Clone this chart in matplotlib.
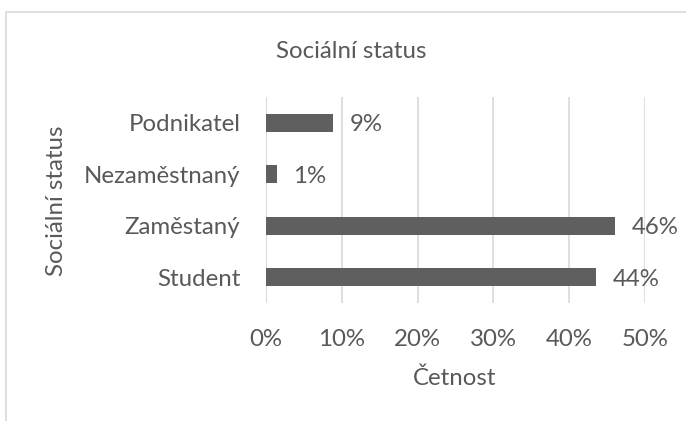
import matplotlib
matplotlib.use("Agg")
import matplotlib.pyplot as plt
from matplotlib.patches import Rectangle
from matplotlib.ticker import PercentFormatter
from matplotlib.transforms import offset_copy

# Data (shares of respondents)
categories = ["Student", "Zaměstaný", "Nezaměstnaný", "Podnikatel"]
shares = [0.436, 0.46, 0.014, 0.089]
x_ticks = [0, 0.1, 0.2, 0.3, 0.4, 0.5]

TEXT_COLOR = "#595959"
BAR_COLOR = "#5f5f5f"
GRID_COLOR = "#d9d9d9"
FS = 17.3

plt.rcParams["font.family"] = ["Lato", "DejaVu Sans"]

fig = plt.figure(figsize=(6.86, 4.21), dpi=100)
ax = fig.add_axes([0.3878, 0.2803, 0.5524, 0.4893])

# Light outer frame of the chart area (cropped on the right and bottom)
fig.patches.append(Rectangle((6 / 686, -0.1), 1.2, 1 - 12 / 421 + 0.1,
                             transform=fig.transFigure, fill=False,
                             edgecolor="#d9d9d9", linewidth=1.2))

y_pos = range(len(categories))
ax.barh(y_pos, shares, height=0.35, color=BAR_COLOR, zorder=3)

# value labels sit a touch below the bar centre, like in Excel
label_trans = offset_copy(ax.transData, fig=fig, x=0, y=-2, units="dots")
for y, v in zip(y_pos, shares):
    ax.text(v + 0.022, y, f"{v:.0%}", va="center", ha="left",
            fontsize=FS, color=TEXT_COLOR, transform=label_trans)

ax.set_xlim(0, 0.5)
ax.set_ylim(-0.5, 3.5)
ax.set_xticks(x_ticks)
ax.xaxis.set_major_formatter(PercentFormatter(1.0, decimals=0))
ax.set_yticks(list(y_pos))
ax.set_yticklabels(categories)
ax.tick_params(axis="both", length=0, labelsize=FS, labelcolor=TEXT_COLOR)
ax.tick_params(axis="x", pad=19)
ax.tick_params(axis="y", pad=18.5)

ax.grid(axis="x", color=GRID_COLOR, linewidth=1.2, zorder=0)
ax.axvline(0, color=GRID_COLOR, linewidth=1.2, zorder=1)
for spine in ax.spines.values():
    spine.set_visible(False)

fig.text(455 / 686, 1 - 378 / 421, "Četnost", ha="center", va="center",
         fontsize=FS, color=TEXT_COLOR)
fig.text(57 / 686, 1 - 201 / 421, "Sociální status", rotation=90,
         ha="center", va="center", fontsize=FS, color=TEXT_COLOR)
fig.text(351 / 686, 1 - 52 / 421, "Sociální status", ha="center",
         va="center", fontsize=FS, color=TEXT_COLOR)

fig.savefig("out.png", dpi=100, facecolor="white")
